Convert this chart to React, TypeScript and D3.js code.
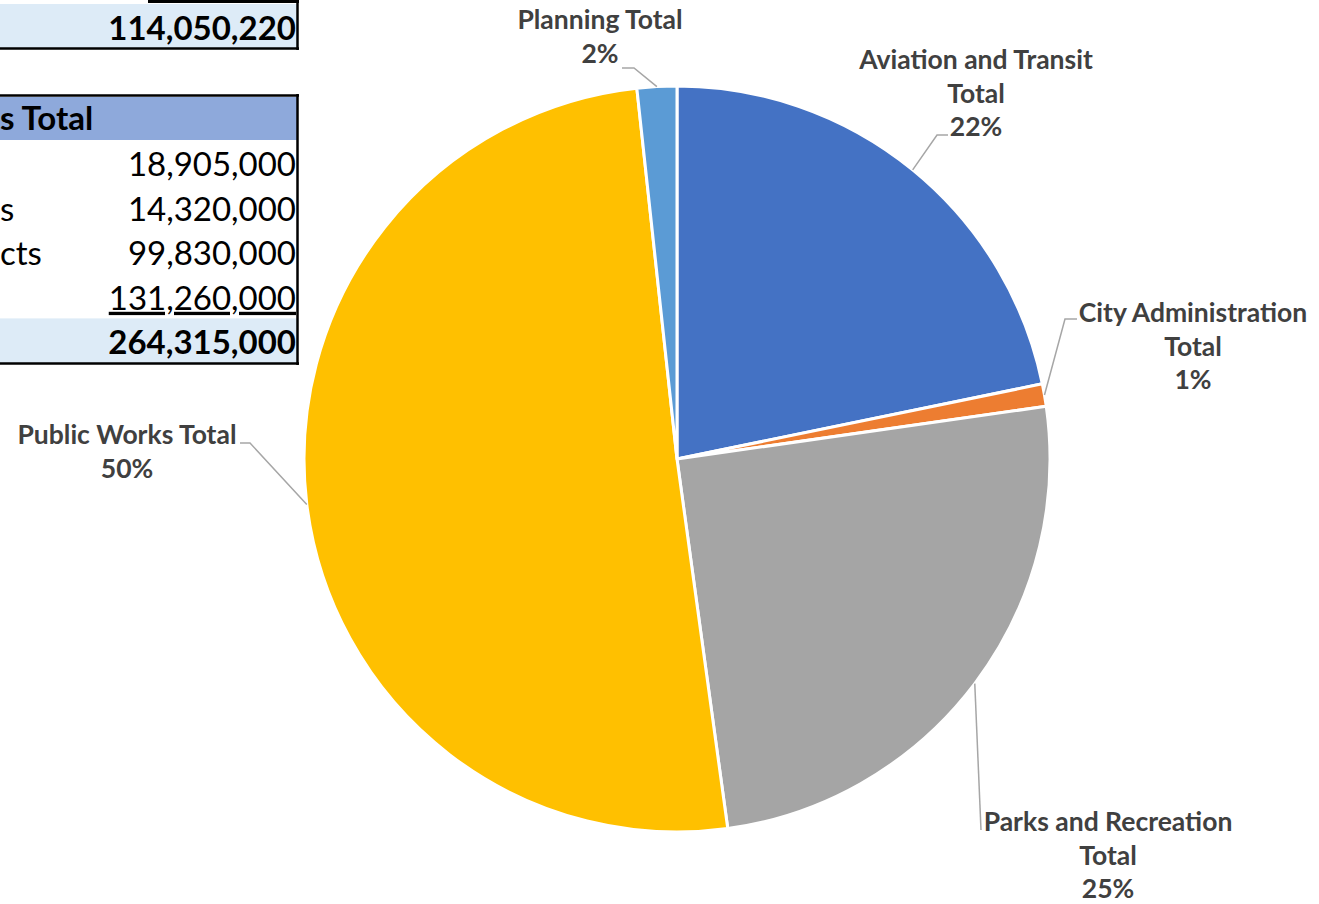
import * as d3 from 'd3'

const categories = [
  'Aviation and Transit Total',
  'City Administration Total',
  'Parks and Recreation Total',
  'Public Works Total',
  'Planning Total',
]
const budgets = [114050220, 5100000, 131400000, 264315000, 9000000]
const sliceColors = ['#4472C4', '#ED7D31', '#A5A5A5', '#FFC000', '#5B9BD5']

// spreadsheet fragment visible at the left edge
const topTotal = '114,050,220'
const tableHeader = 's Total'
const tableRowLabels = ['', 's', 'cts', '']
const tableRowValues = ['18,905,000', '14,320,000', '99,830,000', '131,260,000']
const tableTotal = '264,315,000'

const width = 1319
const height = 904
const cx = 677
const cy = 459
const radius = 373
const labelFont = 'Lato, "Open Sans", sans-serif'
const labelColor = '#404040'
const leaderColor = '#A6A6A6'

// where each data label sits, and the bend of its leader line
const labelLayout: Record<string, { lines: string[]; x: number; y: number; elbow: [number, number][] }> = {
  'Aviation and Transit Total': { lines: ['Aviation and Transit', 'Total'], x: 976, y: 59, elbow: [[937, 135], [948, 135]] },
  'City Administration Total': { lines: ['City Administration', 'Total'], x: 1193, y: 312, elbow: [[1065, 319], [1077, 319]] },
  'Parks and Recreation Total': { lines: ['Parks and Recreation', 'Total'], x: 1108, y: 821, elbow: [[981, 830]] },
  'Public Works Total': { lines: ['Public Works Total'], x: 127, y: 434, elbow: [[250, 443], [240, 443]] },
  'Planning Total': { lines: ['Planning Total'], x: 600, y: 19, elbow: [[634, 68], [622, 68]] },
}
const lineStep = 33.5

export default function App() {
  const total = d3.sum(budgets)
  const pie = d3
    .pie<number>()
    .sort(null)
    .value((d) => d)
  const arcs = pie(budgets)
  const arc = d3.arc<d3.PieArcDatum<number>>().innerRadius(0).outerRadius(radius)
  const edge = d3.arc<d3.PieArcDatum<number>>().innerRadius(radius).outerRadius(radius)
  const line = d3.line()

  const rowTop = 140
  const rowH = 44.6
  const tableFont = 'Lato, "Open Sans", sans-serif'

  return (
    <svg
      width={width}
      height={height}
      style={{ position: 'absolute', left: 0, top: 0, background: '#fff' }}
    >
      {/* spreadsheet cells */}
      <g fontFamily={tableFont} fontSize={33} fill="#000">
        <rect x={0} y={4} width={298} height={44} fill="#DDEBF7" />
        <line x1={148} y1={1.5} x2={299} y2={1.5} stroke="#000" strokeWidth={3} />
        <line x1={0} y1={48.5} x2={299} y2={48.5} stroke="#000" strokeWidth={2.5} />
        <line x1={297.5} y1={0} x2={297.5} y2={50} stroke="#000" strokeWidth={2.5} />
        <text x={296} y={40} textAnchor="end" fontWeight="bold">
          {topTotal}
        </text>

        <rect x={0} y={97} width={298} height={43} fill="#8EA9DB" />
        <rect x={0} y={rowTop + rowH * 4} width={298} height={rowH} fill="#DDEBF7" />
        <line x1={0} y1={95.5} x2={299} y2={95.5} stroke="#000" strokeWidth={2.5} />
        <line x1={0} y1={363.5} x2={299} y2={363.5} stroke="#000" strokeWidth={2.5} />
        <line x1={297.5} y1={94} x2={297.5} y2={365} stroke="#000" strokeWidth={2.5} />
        <text x={0} y={130} fontWeight="bold">
          {tableHeader}
        </text>
        {tableRowValues.map((v, i) => (
          <g key={v}>
            <text x={0} y={rowTop + rowH * i + 36}>
              {tableRowLabels[i]}
            </text>
            <text
              x={296}
              y={rowTop + rowH * i + 36}
              textAnchor="end"
              textDecoration={i === 3 ? 'underline' : undefined}
            >
              {v}
            </text>
          </g>
        ))}
        <text x={296} y={rowTop + rowH * 4 + 36} textAnchor="end" fontWeight="bold">
          {tableTotal}
        </text>
      </g>

      {/* pie */}
      <g transform={`translate(${cx},${cy})`}>
        {arcs.map((a, i) => (
          <path key={categories[i]} d={arc(a) ?? ''} fill={sliceColors[i]} stroke="#fff" strokeWidth={3} strokeLinejoin="round" />
        ))}
      </g>

      {/* leader lines and data labels */}
      {arcs.map((a, i) => {
        const name = categories[i]
        const layout = labelLayout[name]
        const [ex, ey] = edge.centroid(a)
        const pts: [number, number][] = [[cx + ex, cy + ey], ...layout.elbow]
        const pct = `${Math.round((a.value / total) * 100)}%`
        const lines = [...layout.lines, pct]
        return (
          <g key={name}>
            <path d={line(pts) ?? ''} fill="none" stroke={leaderColor} strokeWidth={1.5} />
            {lines.map((t, j) => (
              <text
                key={j}
                x={layout.x}
                y={layout.y + j * lineStep}
                textAnchor="middle"
                dominantBaseline="central"
                fontFamily={labelFont}
                fontWeight="bold"
                fontSize={26.5}
                fill={labelColor}
              >
                {t}
              </text>
            ))}
          </g>
        )
      })}
    </svg>
  )
}
